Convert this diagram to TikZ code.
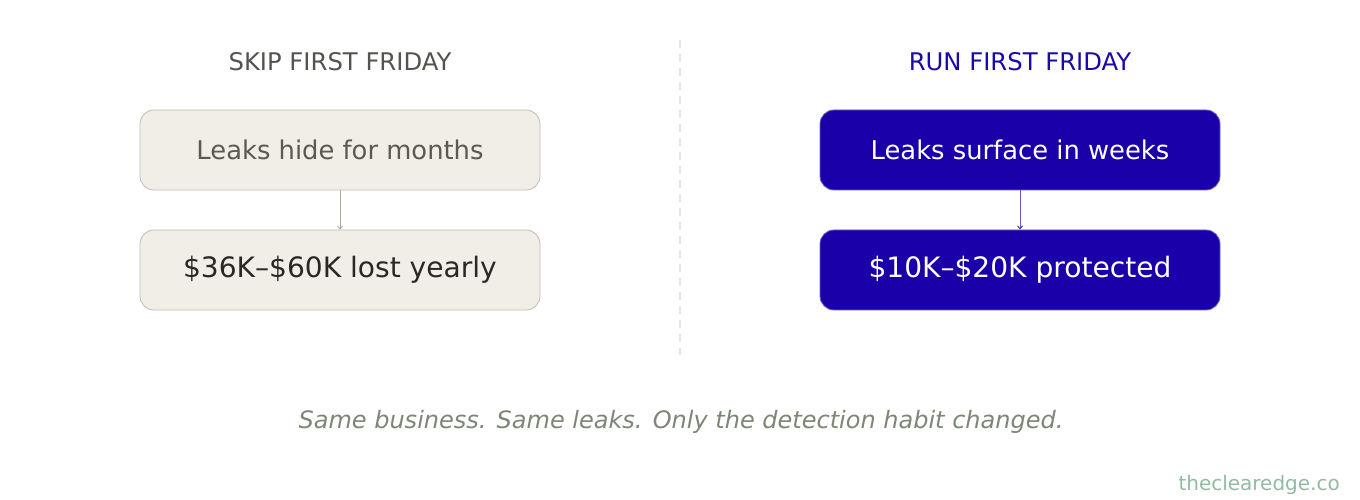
\documentclass[tikz,border=0pt]{standalone}
\usepackage{fontspec}
\setmainfont{DejaVu Sans}
\usetikzlibrary{arrows.meta}
\definecolor{lfill}{HTML}{F1EEE8}
\definecolor{ldraw}{HTML}{C2BDB2}
\definecolor{ltext}{HTML}{5C5953}
\definecolor{ltextdark}{HTML}{2B2823}
\definecolor{lhead}{HTML}{55534F}
\definecolor{rfill}{HTML}{1A00A9}
\definecolor{rdraw}{HTML}{6A5CD6}
\definecolor{rhead}{HTML}{1A0AA8}
\definecolor{divider}{HTML}{E8E6E0}
\definecolor{foot}{HTML}{7E8777}
\definecolor{mark}{HTML}{93BBA2}
\tikzset{
  lbox/.style={draw=ldraw, line width=0.8pt, fill=lfill, rounded corners=14pt,
    minimum width=400pt, minimum height=80pt, inner sep=0pt},
  rbox/.style={draw=rdraw, line width=0.8pt, fill=rfill, rounded corners=14pt,
    minimum width=400pt, minimum height=80pt, inner sep=0pt, text=white},
  head/.style={font=\fontsize{24.3}{28}\selectfont, inner sep=0pt},
  larrow/.style={draw=ldraw!90!black, line width=0.8pt, -{Straight Barb[length=3pt,width=5pt]}},
  rarrow/.style={draw=rdraw, line width=1pt, -{Straight Barb[length=3pt,width=5pt,color=black!70]}},
}
\begin{document}
\begin{tikzpicture}[x=1pt,y=1pt]
\useasboundingbox[fill=white] (0,0) rectangle (1360,500);
% headings
\node[head, text=lhead] (hl) at (340,438) {SKIP FIRST FRIDAY};
\node[head, text=rhead] (hr) at (1020,438) {RUN FIRST FRIDAY};
% divider
\coordinate (dtop) at (680,460);
\coordinate (dbot) at (680,145);
\draw[divider, line width=2pt, dash pattern=on 8pt off 6pt] (dtop) -- (dbot);
% left
\node[lbox, text=ltext, font=\fontsize{25.8}{30}\selectfont] (l1) at (340,350) {Leaks hide for months};
\node[lbox, text=ltextdark, font=\fontsize{28.1}{32}\selectfont] (l2) at (340,230) {\$36K–\$60K lost yearly};
\draw[larrow] (l1.south) -- (l2.north);
% right
\node[rbox, font=\fontsize{25.8}{30}\selectfont] (r1) at (1020,350) {Leaks surface in weeks};
\node[rbox, font=\fontsize{28.1}{32}\selectfont] (r2) at (1020,230) {\$10K–\$20K protected};
\draw[rarrow] (r1.south) -- (r2.north);
% footer
\node[text=foot, font=\itshape\fontsize{24}{28}\selectfont] (foot) at (681,78) {Same business. Same leaks. Only the detection habit changed.};
\node[text=mark, font=\fontsize{20}{24}\selectfont, anchor=east, inner sep=0pt] (wm) at (1340,15) {theclearedge.co};
\end{tikzpicture}
\end{document}
